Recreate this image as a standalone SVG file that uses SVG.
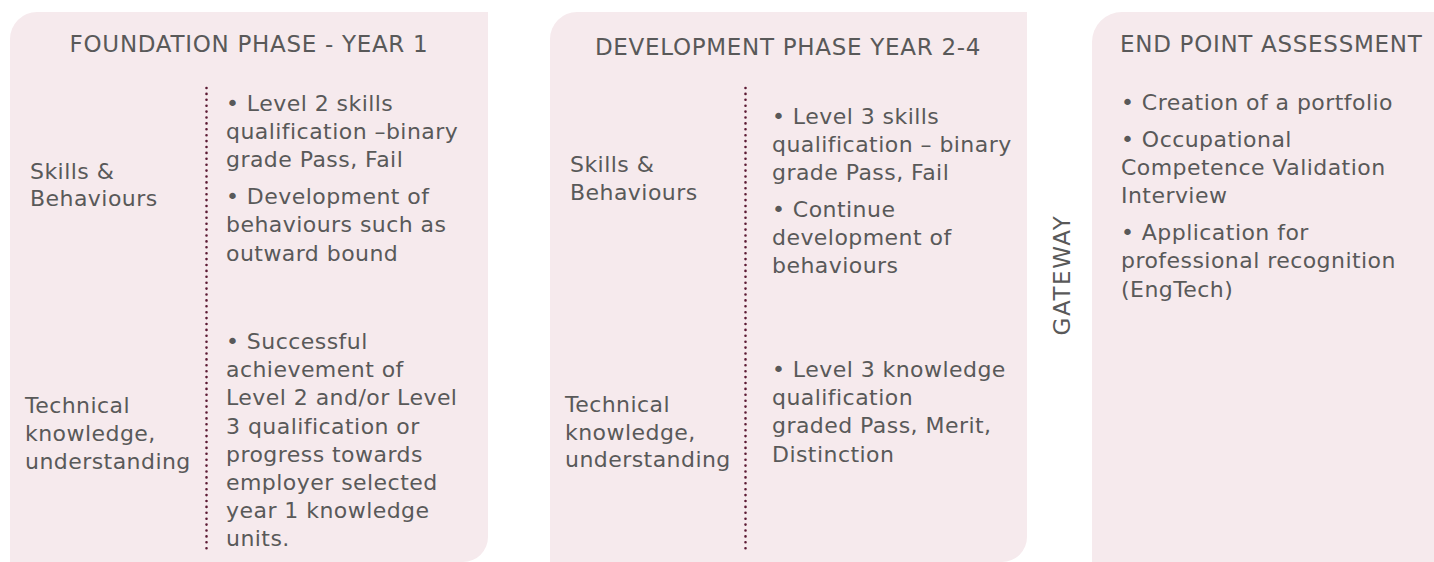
<svg xmlns="http://www.w3.org/2000/svg" width="1434" height="562" viewBox="0 0 1434 562">
<style>
.panel{fill:#f6eaed;}
.t{font-family:"DejaVu Sans","Liberation Sans",sans-serif;font-size:22px;letter-spacing:0.45px;fill:#595959;}
.h{font-family:"DejaVu Sans","Liberation Sans",sans-serif;font-size:23px;letter-spacing:0.7px;fill:#595959;}
.g{font-family:"DejaVu Sans","Liberation Sans",sans-serif;font-size:23px;letter-spacing:1.6px;fill:#595959;}
.dots{stroke:#5c1a33;stroke-width:2.6;stroke-linecap:round;stroke-dasharray:0 5.9;fill:none;}
</style>
<rect width="1434" height="562" fill="#ffffff"/>
<g id="foundation">
<path class="panel" d="M10,39 A27,27 0 0 1 37,12 L488,12 L488,537 A25,25 0 0 1 463,562 L10,562 Z"/>
<text class="h" x="249" y="52" text-anchor="middle">FOUNDATION PHASE - YEAR 1</text>
<text class="t"><tspan x="30" y="179">Skills &amp;</tspan><tspan x="30" y="206">Behaviours</tspan></text>
<text class="t"><tspan x="25" y="412.5">Technical</tspan><tspan x="25" y="440.5">knowledge,</tspan><tspan x="25" y="468.5">understanding</tspan></text>
<text class="t"><tspan x="226" y="110.5">• Level 2 skills</tspan><tspan x="226" y="138.5">qualification –binary</tspan><tspan x="226" y="167">grade Pass, Fail</tspan><tspan x="226" y="203.5">• Development of</tspan><tspan x="226" y="232">behaviours such as</tspan><tspan x="226" y="260.5">outward bound</tspan></text>
<text class="t"><tspan x="226" y="349">• Successful</tspan><tspan x="226" y="377">achievement of</tspan><tspan x="226" y="405">Level 2 and/or Level</tspan><tspan x="226" y="433.5">3 qualification or</tspan><tspan x="226" y="461.5">progress towards</tspan><tspan x="226" y="489.5">employer selected</tspan><tspan x="226" y="517.5">year 1 knowledge</tspan><tspan x="226" y="545.5">units.</tspan></text>
</g>
<g id="development">
<path class="panel" d="M550,39 A27,27 0 0 1 577,12 L1027,12 L1027,537 A25,25 0 0 1 1002,562 L550,562 Z"/>
<text class="h" x="788" y="55" text-anchor="middle">DEVELOPMENT PHASE YEAR 2-4</text>
<text class="t"><tspan x="570" y="172">Skills &amp;</tspan><tspan x="570" y="200">Behaviours</tspan></text>
<text class="t"><tspan x="565" y="411.5">Technical</tspan><tspan x="565" y="440">knowledge,</tspan><tspan x="565" y="467">understanding</tspan></text>
<text class="t"><tspan x="772" y="123.5">• Level 3 skills</tspan><tspan x="772" y="151.5">qualification – binary</tspan><tspan x="772" y="180">grade Pass, Fail</tspan><tspan x="772" y="216.5">• Continue</tspan><tspan x="772" y="245">development of</tspan><tspan x="772" y="273">behaviours</tspan></text>
<text class="t"><tspan x="772" y="376.5">• Level 3 knowledge</tspan><tspan x="772" y="405">qualification</tspan><tspan x="772" y="433">graded Pass, Merit,</tspan><tspan x="772" y="461.5">Distinction</tspan></text>
</g>
<g id="gateway">
<text class="g" x="0" y="0" text-anchor="middle" transform="translate(1070,275) rotate(-90)">GATEWAY</text>
</g>
<g id="epa">
<path class="panel" d="M1092,42 A30,30 0 0 1 1122,12 L1434,12 L1434,562 L1092,562 Z"/>
<text class="h" x="1120" y="52">END POINT ASSESSMENT</text>
<text class="t"><tspan x="1121" y="110">• Creation of a portfolio</tspan><tspan x="1121" y="146.5">• Occupational</tspan><tspan x="1121" y="175">Competence Validation</tspan><tspan x="1121" y="203">Interview</tspan><tspan x="1121" y="239.5">• Application for</tspan><tspan x="1121" y="268">professional recognition</tspan><tspan x="1121" y="296.5">(EngTech)</tspan></text>
</g>
<g id="connectors">
<line class="dots" x1="206.5" y1="88" x2="206.5" y2="552"/>
<line class="dots" x1="745.5" y1="88" x2="745.5" y2="552"/>
</g>
</svg>
